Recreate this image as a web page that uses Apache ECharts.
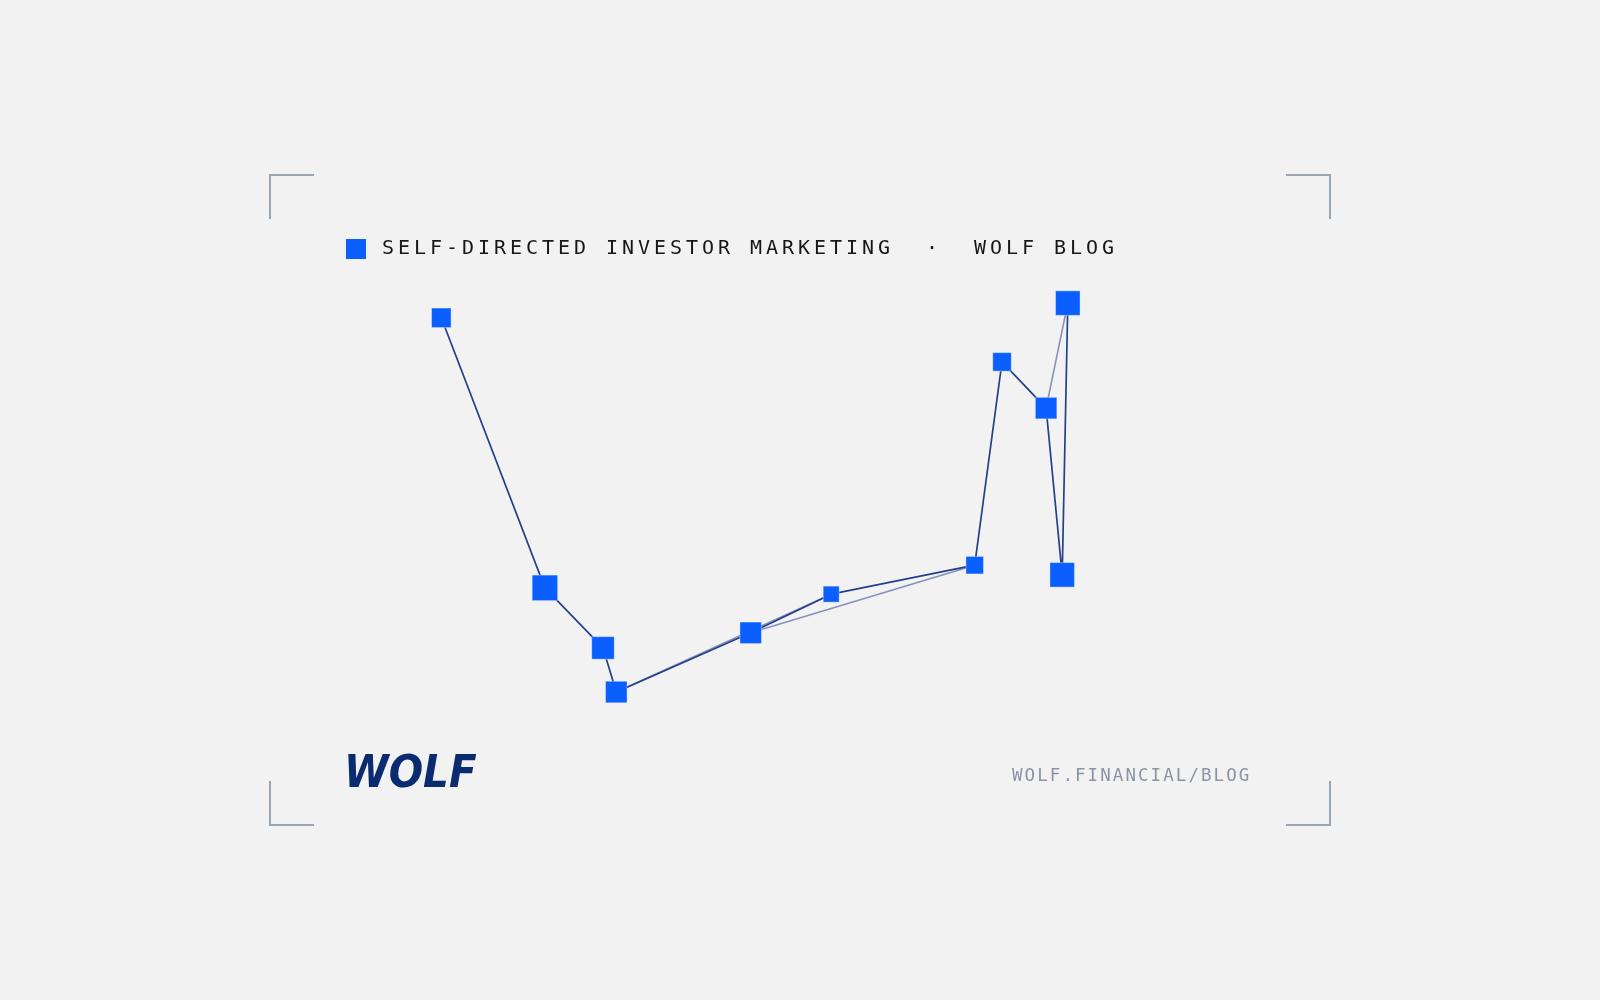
<!DOCTYPE html>
<html>
<head>
<meta charset="utf-8">
<title>Self-directed investor marketing</title>
<script src="https://cdn.jsdelivr.net/npm/echarts@6/dist/echarts.min.js"></script>
<style>
  html, body { margin: 0; padding: 0; background: #f2f2f2; }
  #chart { width: 1600px; height: 1000px; }
</style>
</head>
<body>
<div id="chart"></div>
<script>
// values (arbitrary 0-100 units, axes hidden)
var xValues = [5.9, 20.7, 29.0, 30.9, 50.1, 61.6, 82.1, 86.0, 92.3, 94.6, 95.4];
var yValues = [91.0, 26.7, 12.4, 1.9, 16.0, 25.2, 32.1, 80.5, 69.5, 29.8, 94.5];
var weights = [70, 130, 100, 90, 90, 35, 50, 60, 90, 120, 120];
// extra faint links between points (index pairs)
var lightLinks = [[3, 5], [4, 6], [8, 10]];

var titleText = 'SELF-DIRECTED INVESTOR MARKETING  \u00b7  WOLF BLOG';
var footerText = 'WOLF.FINANCIAL/BLOG';
var logoText = 'WOLF';

var points = [];
for (var i = 0; i < xValues.length; i++) {
    points.push([xValues[i], yValues[i], weights[i]]);
}

// monospace text with letter spacing, one glyph per element
function spacedText(str, x, y, advance, font, color) {
    var els = [];
    for (var i = 0; i < str.length; i++) {
        var ch = str.charAt(i);
        if (ch === ' ') continue;
        els.push({
            type: 'text',
            x: x + i * advance,
            y: y,
            silent: true,
            style: {
                text: ch,
                font: font,
                fill: color,
                textAlign: 'left',
                textVerticalAlign: 'middle',
                verticalAlign: 'middle'
            }
        });
    }
    return els;
}

function corner(points) {
    return {
        type: 'polyline',
        silent: true,
        shape: { points: points },
        style: { stroke: '#9ba6b3', lineWidth: 2, fill: null }
    };
}

var graphics = [
    corner([[270, 219], [270, 175], [314, 175]]),
    corner([[1286, 175], [1330, 175], [1330, 219]]),
    corner([[270, 781], [270, 825], [314, 825]]),
    corner([[1286, 825], [1330, 825], [1330, 781]]),
    {
        type: 'rect',
        silent: true,
        shape: { x: 346, y: 239, width: 20, height: 20 },
        style: { fill: '#0b5fff' }
    },
    {
        type: 'text',
        x: 344,
        y: 775,
        scaleX: 0.9,
        silent: true,
        style: {
            text: logoText,
            font: 'italic bold 45px "DejaVu Sans"',
            fill: '#0a2b70',
            textAlign: 'left',
            textVerticalAlign: 'middle',
            verticalAlign: 'middle'
        }
    }
];
graphics = graphics.concat(spacedText(titleText, 382, 249, 16, '20px "DejaVu Sans Mono"', '#161616'));
graphics = graphics.concat(spacedText(footerText, 1012, 776, 12.6, '17.5px "DejaVu Sans Mono"', '#8a94a6'));

var series = [];
lightLinks.forEach(function (link) {
    series.push({
        type: 'line',
        data: [points[link[0]], points[link[1]]],
        showSymbol: false,
        silent: true,
        lineStyle: { color: '#8790bb', width: 1.6 },
        z: 1
    });
});
series.push({
    type: 'line',
    data: points,
    showSymbol: false,
    silent: true,
    lineStyle: { color: '#24408a', width: 1.7 },
    z: 2
});
series.push({
    type: 'scatter',
    data: points,
    symbol: 'rect',
    symbolSize: function (v) { return 12.5 + v[2] / 10; },
    itemStyle: { color: '#0b5fff', borderColor: 'rgba(255,255,255,0.35)', borderWidth: 1, opacity: 1 },
    z: 3
});

var myChart = echarts.init(document.getElementById('chart'));
var option = {
    backgroundColor: '#f2f2f2',
    animation: false,
    grid: { left: 400, top: 280, width: 700, height: 420 },
    xAxis: { type: 'value', min: 0, max: 100, show: false },
    yAxis: { type: 'value', min: 0, max: 100, show: false },
    graphic: graphics,
    series: series
};
myChart.setOption(option);
window.onresize = function () {
    myChart.resize();
};
</script>
</body>
</html>
